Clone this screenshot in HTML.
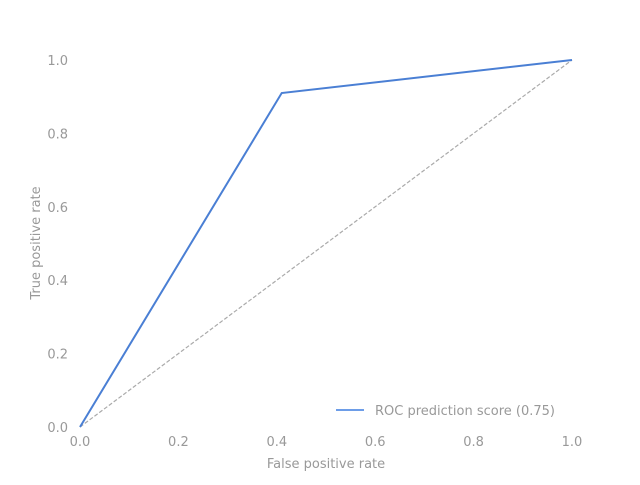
<!DOCTYPE html>
<html><head><meta charset="utf-8"><style>
body{margin:0;background:#fff}
svg text{font-family:"DejaVu Sans","Liberation Sans",sans-serif;fill:#999;font-size:13px}
</style></head><body>
<svg id="chart" width="640" height="480" xmlns="http://www.w3.org/2000/svg"></svg>
<script>
const fprValues=[0,0.41,1];
const tprValues=[0,0.91,1];
const xTicks=[0,0.2,0.4,0.6,0.8,1.0];
const yTicks=[0,0.2,0.4,0.6,0.8,1.0];
const diagX=[0,1];
const diagY=[0,1];
const svg=document.getElementById('chart');
const NS='http://www.w3.org/2000/svg';
const sx=v=>80+v*492, sy=v=>427-v*367;
function mk(t,a,txt){const e=document.createElementNS(NS,t);for(const k in a)e.setAttribute(k,a[k]);if(txt!==undefined)e.textContent=txt;svg.appendChild(e);return e;}
xTicks.forEach(v=>{
 const t=mk('text',{x:sx(v),y:446,'text-anchor':'middle'},v.toFixed(1));
 
 
});
yTicks.forEach(v=>{
 const t=mk('text',{x:68,y:sy(v)+5,'text-anchor':'end'},v.toFixed(1));
 
 
});
let xt=mk('text',{x:326,y:468,'text-anchor':'middle'},'False positive rate');


let yt=mk('text',{x:40,y:243,'text-anchor':'middle',transform:'rotate(-90 40 243)'},'True positive rate');


let d=mk('polyline',{points:diagX.map((v,i)=>sx(v)+','+sy(diagY[i])).join(' '),fill:'none',stroke:'#aaa','stroke-width':1.2,'stroke-dasharray':'4,2'});


let r=mk('polyline',{points:fprValues.map((v,i)=>sx(v)+','+sy(tprValues[i])).join(' '),fill:'none',stroke:'#4a7fd4','stroke-width':2});


let ll=mk('line',{x1:336,y1:410,x2:364,y2:410,stroke:'#6d9de8','stroke-width':2});


let lt=mk('text',{x:375,y:415},'ROC prediction score (0.75)');


</script>
</body></html>
